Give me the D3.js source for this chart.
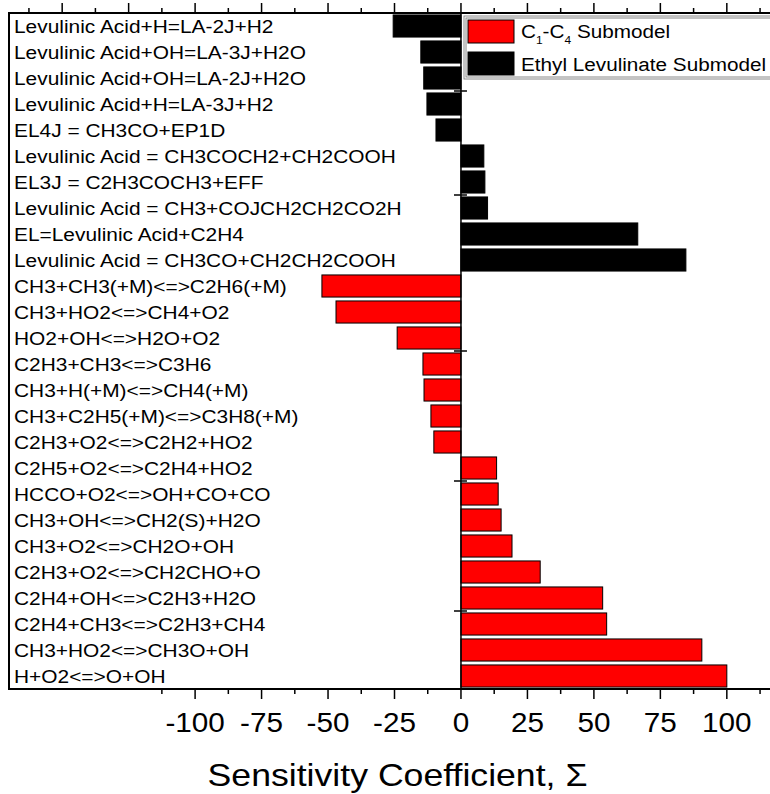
<!DOCTYPE html>
<html>
<head>
  <meta charset="utf-8">
  <title></title>
  <style>
    body { margin: 0; background: #fff; }
    text { font-family: "Liberation Sans", Arial, sans-serif; }
  </style>
  <script src="https://d3js.org/d3.v7.min.js"></script>
</head>
<body>
  <svg id="chart" width="770" height="794"></svg>
  <script>
    // reactions, top to bottom
    const reactions = [
      "Levulinic Acid+H=LA-2J+H2",
      "Levulinic Acid+OH=LA-3J+H2O",
      "Levulinic Acid+OH=LA-2J+H2O",
      "Levulinic Acid+H=LA-3J+H2",
      "EL4J = CH3CO+EP1D",
      "Levulinic Acid = CH3COCH2+CH2COOH",
      "EL3J = C2H3COCH3+EFF",
      "Levulinic Acid = CH3+COJCH2CH2CO2H",
      "EL=Levulinic Acid+C2H4",
      "Levulinic Acid = CH3CO+CH2CH2COOH",
      "CH3+CH3(+M)<=>C2H6(+M)",
      "CH3+HO2<=>CH4+O2",
      "HO2+OH<=>H2O+O2",
      "C2H3+CH3<=>C3H6",
      "CH3+H(+M)<=>CH4(+M)",
      "CH3+C2H5(+M)<=>C3H8(+M)",
      "C2H3+O2<=>C2H2+HO2",
      "C2H5+O2<=>C2H4+HO2",
      "HCCO+O2<=>OH+CO+CO",
      "CH3+OH<=>CH2(S)+H2O",
      "CH3+O2<=>CH2O+OH",
      "C2H3+O2<=>CH2CHO+O",
      "C2H4+OH<=>C2H3+H2O",
      "C2H4+CH3<=>C2H3+CH4",
      "CH3+HO2<=>CH3O+OH",
      "H+O2<=>O+OH"
    ]
    const sensitivity = [
      -25.5, -15.1, -14.0, -12.8, -9.4, 8.6, 9.0, 10.0, 66.5, 84.6,
      -52.3, -47.0, -24.0, -14.3, -13.9, -11.3, -10.2,
      13.4, 14.0, 15.1, 19.2, 29.8, 53.3, 54.8, 90.6, 100
    ]
    // 'EL' = ethyl levulinate submodel, 'C' = C1-C4 submodel
    const submodel = [
      "EL", "EL", "EL", "EL", "EL", "EL", "EL", "EL", "EL", "EL",
      "C", "C", "C", "C", "C", "C", "C",
      "C", "C", "C", "C", "C", "C", "C", "C", "C"
    ]
    const xTicks = [-100, -75, -50, -25, 0, 25, 50, 75, 100]
    const xTitle = "Sensitivity Coefficient, \u03a3"

    const svg = d3.select("#chart")
    const pL = 9, pR = 780, pT = 13, pB = 689

    const x = d3.scaleLinear().domain([-170, 120]).range([pL, pR])
    const y = d3.scaleBand().domain(d3.range(reactions.length)).range([pT, pB]).paddingInner(0.15).paddingOuter(0.075)
    const color = d => d == "EL" ? "#000" : "#ff0000"

    // bars
    svg.append("g")
      .selectAll("rect")
      .data(sensitivity)
      .enter()
      .append("rect")
      .attr("x", d => x(Math.min(0, d)))
      .attr("width", d => Math.abs(x(d) - x(0)))
      .attr("y", (d, i) => y(i))
      .attr("height", y.bandwidth())
      .attr("fill", (d, i) => color(submodel[i]))
      .attr("stroke", "#000")
      .attr("stroke-width", 1)

    // reaction labels (text in the original is a bit wider than Liberation Sans)
    svg.append("g")
      .selectAll("text")
      .data(reactions)
      .enter()
      .append("text")
      .attr("transform", (d, i) => `translate(${pL + 5},${y(i) + y.bandwidth() / 2}) scale(1.13,1)`)
      .attr("dy", "0.36em")
      .attr("font-size", 18.5)
      .text(d => d)

    // zero line
    svg.append("line")
      .attr("x1", x(0)).attr("x2", x(0))
      .attr("y1", pT).attr("y2", pB)
      .attr("stroke", "#000").attr("stroke-width", 1.5)

    // small ticks on the zero line
    const step = (pB - pT) / reactions.length
    svg.append("g")
      .selectAll("line")
      .data([3, 7, 13, 18, 23])
      .enter()
      .append("line")
      .attr("x1", x(0) - 7).attr("x2", x(0) + 6)
      .attr("y1", d => pT + d * step).attr("y2", d => pT + d * step)
      .attr("stroke", "#000").attr("stroke-width", 1.5)

    // frame
    svg.append("path")
      .attr("d", `M${pR},${pT}H${pL}V${pB}H${pR}`)
      .attr("fill", "none").attr("stroke", "#000").attr("stroke-width", 2)

    // top and bottom ticks
    const topTicks = d3.range(-162.5, 120, 12.5)
    const botTicks = d3.range(-112.5, 120, 12.5)
    const isMajor = v => Math.abs(v % 25) < 1e-6
    svg.append("g")
      .selectAll("line")
      .data(topTicks)
      .enter()
      .append("line")
      .attr("x1", d => x(d)).attr("x2", d => x(d))
      .attr("y1", pT).attr("y2", d => pT - (isMajor(d) ? 10 : 5))
      .attr("stroke", "#000").attr("stroke-width", 1.5)
    svg.append("g")
      .selectAll("line")
      .data(botTicks)
      .enter()
      .append("line")
      .attr("x1", d => x(d)).attr("x2", d => x(d))
      .attr("y1", pB).attr("y2", d => pB + (isMajor(d) ? 10 : 5))
      .attr("stroke", "#000").attr("stroke-width", 1.5)

    svg.append("g")
      .selectAll("text")
      .data(xTicks)
      .enter()
      .append("text")
      .attr("transform", d => `translate(${x(d)},732) scale(1.1,1)`)
      .attr("text-anchor", "middle")
      .attr("font-size", 27)
      .text(d => d)

    svg.append("text")
      .attr("transform", `translate(${(pL + pR) / 2 + 3},786) scale(1.15,1)`)
      .attr("text-anchor", "middle")
      .attr("font-size", 31)
      .text(xTitle)

    // legend
    const lg = svg.append("g").attr("transform", "translate(464,16)")
    lg.append("rect").attr("x", 0).attr("y", 0).attr("width", 320).attr("height", 63)
      .attr("fill", "#fff").attr("stroke", "#888").attr("stroke-width", 1)
    lg.append("rect").attr("x", 2).attr("y", 2).attr("width", 316).attr("height", 59)
      .attr("fill", "none").attr("stroke", "#888").attr("stroke-width", 1)
    lg.append("rect").attr("x", 4).attr("y", 4).attr("width", 46).attr("height", 23)
      .attr("fill", "#ff0000").attr("stroke", "#000")
    lg.append("rect").attr("x", 4).attr("y", 36).attr("width", 46).attr("height", 23)
      .attr("fill", "#000").attr("stroke", "#000")
    const t1 = lg.append("text").attr("transform", "translate(57,22) scale(1.09,1)").attr("font-size", 19)
    t1.append("tspan").text("C")
    t1.append("tspan").attr("font-size", 11).attr("dy", 6).text("1")
    t1.append("tspan").attr("dy", -6).text("-C")
    t1.append("tspan").attr("font-size", 11).attr("dy", 6).text("4")
    t1.append("tspan").attr("dy", -6).text(" Submodel")
    lg.append("text").attr("transform", "translate(57,55) scale(1.09,1)").attr("font-size", 19)
      .text("Ethyl Levulinate Submodel")
  </script>
</body>
</html>
